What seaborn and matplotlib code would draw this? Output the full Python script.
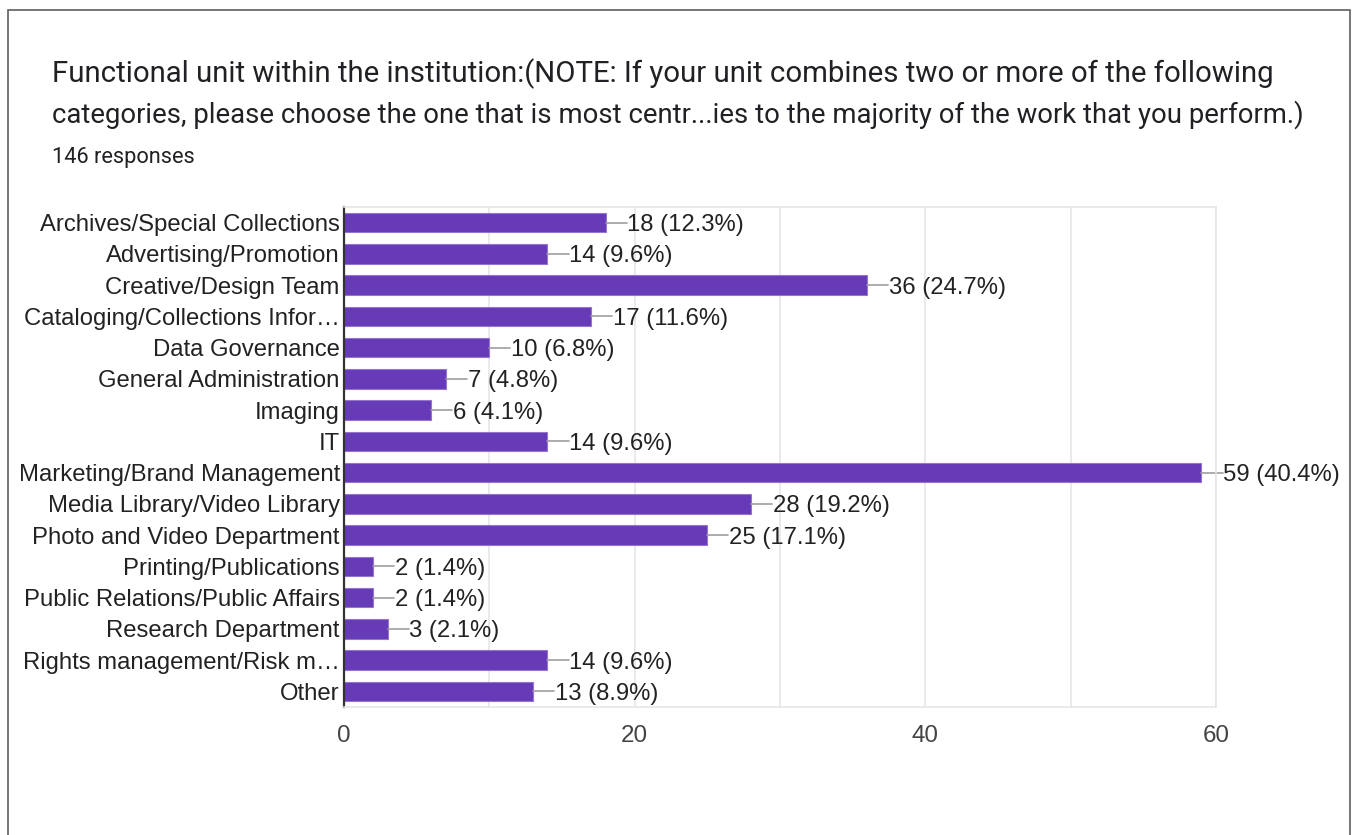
import matplotlib
matplotlib.use("Agg")
import matplotlib.pyplot as plt
import seaborn as sns
import pandas as pd
from matplotlib.patches import Rectangle

categories = [
    "Archives/Special Collections",
    "Advertising/Promotion",
    "Creative/Design Team",
    "Cataloging/Collections Infor\u2026",
    "Data Governance",
    "General Administration",
    "Imaging",
    "IT",
    "Marketing/Brand Management",
    "Media Library/Video Library",
    "Photo and Video Department",
    "Printing/Publications",
    "Public Relations/Public Affairs",
    "Research Department",
    "Rights management/Risk m\u2026",
    "Other",
]
counts = [18, 14, 36, 17, 10, 7, 6, 14, 59, 28, 25, 2, 2, 3, 14, 13]
percents = [12.3, 9.6, 24.7, 11.6, 6.8, 4.8, 4.1, 9.6, 40.4, 19.2, 17.1, 1.4, 1.4, 2.1, 9.6, 8.9]
x_ticks = [0, 20, 40, 60]
total_responses = 146

title_lines = [
    "Functional unit within the institution:(NOTE: If your unit combines two or more of the following",
    "categories, please choose the one that is most centr...ies to the majority of the work that you perform.)",
]

sns.set_theme(style="white")
plt.rcParams["font.family"] = ["Liberation Sans", "DejaVu Sans"]
header_font = ["Roboto", "DejaVu Sans"]

df = pd.DataFrame({"unit": categories, "count": counts})

fig = plt.figure(figsize=(13.52, 8.35), dpi=100)
W, H = 1352, 835

# card outline
fig.patches.append(Rectangle((8 / W, -0.05), (1350 - 8) / W, 1.05 - 10 / H,
                             transform=fig.transFigure, fill=False,
                             edgecolor="#5f5f5f", linewidth=1.2))


def header_text(y_px, s, size, width_px):
    """Place a header line and scale its size so it spans width_px pixels."""
    t = fig.text(52 / W, 1 - y_px / H, s, fontsize=size, color="#202124",
                 va="center", family=header_font)
    renderer = fig.canvas.get_renderer()
    w = t.get_window_extent(renderer).width
    t.set_fontsize(size * width_px / w)
    return t


header_text(74, title_lines[0], 20.8, 1220)
header_text(115, title_lines[1], 20.8, 1248)
header_text(157, f"{total_responses} responses", 15.3, 143)

ax = fig.add_axes([344 / W, 1 - 707 / H, (1216 - 344) / W, (707 - 207) / H])
sns.barplot(data=df, x="count", y="unit", orient="h", color="#673ab7",
            saturation=1, width=0.62, edgecolor="#9575cd", linewidth=0.8, ax=ax)

ax.set_xlim(0, 60)
ax.set_ylim(len(categories) - 0.5, -0.5)
ax.set_xticks(x_ticks)
ax.set_xticks(range(0, 61, 10), minor=True)
ax.xaxis.grid(True, which="both", color="#e6e6e6", linewidth=1.2)
ax.set_axisbelow(True)
ax.set_xlabel("")
ax.set_ylabel("")
ax.tick_params(axis="x", length=0, labelsize=17.4, labelcolor="#444444", pad=13)
ax.tick_params(axis="y", length=0, labelsize=17.2, labelcolor="#222222", pad=3)
for lbl in ax.get_yticklabels():
    lbl.set_verticalalignment("center_baseline")

for side in ("top", "right", "bottom"):
    ax.spines[side].set_color("#e6e6e6")
    ax.spines[side].set_linewidth(1.2)
ax.spines["left"].set_color("#333333")
ax.spines["left"].set_linewidth(1.6)

for i, (c, p) in enumerate(zip(counts, percents)):
    ax.plot([c, c + 1.45], [i, i], color="#9e9e9e", linewidth=1.2, clip_on=False)
    ax.text(c + 1.5, i, f"{c} ({p}%)", va="center_baseline", ha="left",
            fontsize=17.2, color="#222222", clip_on=False)

fig.savefig("out.png", dpi=100)
